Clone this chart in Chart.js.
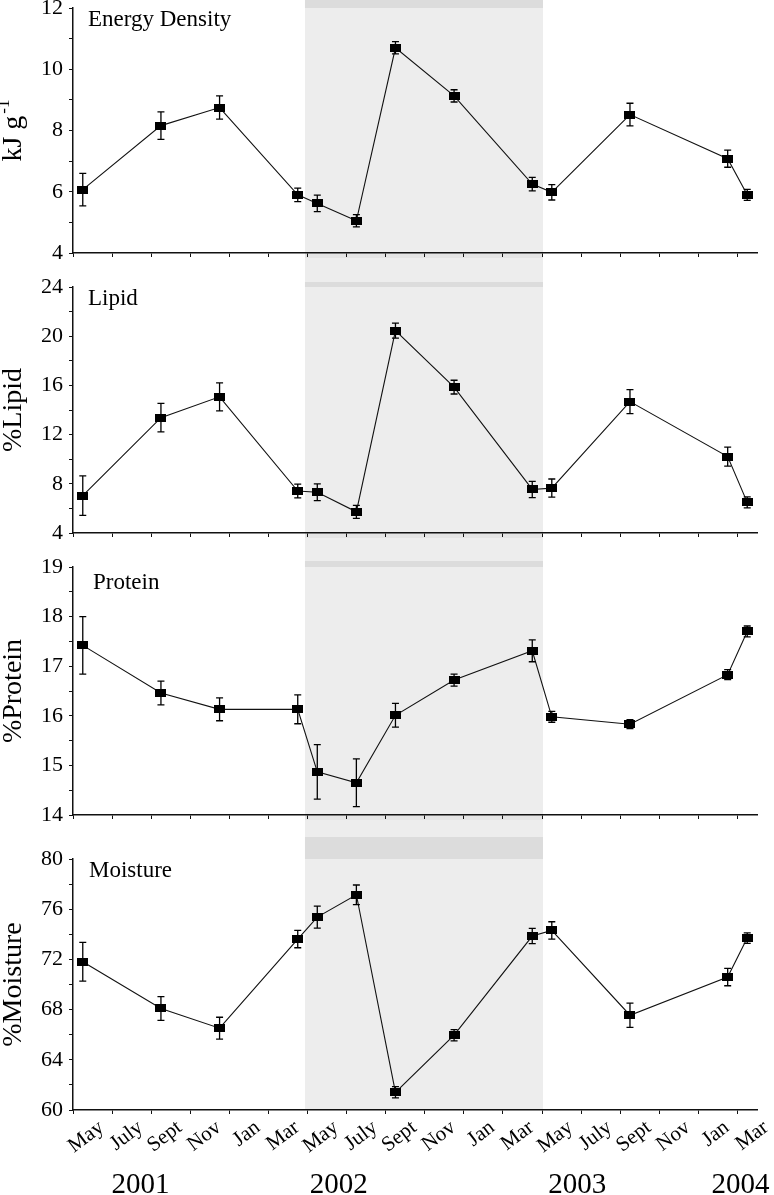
<!DOCTYPE html>
<html>
<head>
<meta charset="utf-8">
<title>Seasonal composition</title>
<script src="https://cdn.jsdelivr.net/npm/chart.js@4/dist/chart.umd.min.js"></script>
<style>
  html, body { margin: 0; padding: 0; background: #fff; width: 774px; height: 1195px; overflow: hidden; position: relative; }
  canvas.panel { position: absolute; left: 0; }
</style>
</head>
<body>
<canvas id="energyChart" class="panel" width="774" height="280" style="top:-10px;width:774px;height:280px"></canvas>
<canvas id="lipidChart" class="panel" width="774" height="280" style="top:270px;width:774px;height:280px"></canvas>
<canvas id="proteinChart" class="panel" width="774" height="285" style="top:550px;width:774px;height:285px"></canvas>
<canvas id="moistureChart" class="panel" width="774" height="360" style="top:835px;width:774px;height:360px"></canvas>

<script>
/* ===== DATA ===== */
// sampling dates in months, counted from Jan 2001 (0 = Jan 2001)
const sampleMonths = [3.5, 7.5, 10.5, 14.5, 15.5, 17.5, 19.5, 22.5, 26.5, 27.5, 31.5, 36.5, 37.5];

const energyValues   = [6.07, 8.16, 8.75, 5.90, 5.62, 5.05, 10.70, 9.13, 6.25, 5.98, 8.52, 7.08, 5.90];
const energyErrors   = [0.53, 0.45, 0.38, 0.22, 0.27, 0.20, 0.20, 0.20, 0.22, 0.25, 0.37, 0.28, 0.18];

const lipidValues    = [7.04, 13.38, 15.07, 7.41, 7.31, 5.72, 20.46, 15.86, 7.54, 7.65, 14.68, 10.21, 6.49];
const lipidErrors    = [1.60, 1.16, 1.14, 0.56, 0.68, 0.53, 0.61, 0.56, 0.66, 0.74, 0.97, 0.77, 0.45];

const proteinValues  = [17.42, 16.46, 16.13, 16.13, 14.87, 14.65, 16.01, 16.72, 17.31, 15.98, 15.83, 16.83, 17.70];
const proteinErrors  = [0.58, 0.24, 0.23, 0.29, 0.55, 0.48, 0.24, 0.12, 0.22, 0.11, 0.09, 0.10, 0.11];

const moistureValues = [71.81, 68.09, 66.52, 73.62, 75.37, 77.15, 61.41, 65.96, 73.86, 74.31, 67.55, 70.59, 73.70];
const moistureErrors = [1.54, 0.95, 0.87, 0.69, 0.88, 0.78, 0.45, 0.45, 0.61, 0.69, 0.96, 0.69, 0.42];

// month tick labels, one every second month from May 2001 (month 4) to Mar 2004 (month 38)
const monthLabels = ["May", "July", "Sept", "Nov", "Jan", "Mar",
                     "May", "July", "Sept", "Nov", "Jan", "Mar",
                     "May", "July", "Sept", "Nov", "Jan", "Mar"];
const yearLabels = ["2001", "2002", "2003", "2004"];
const yearAt     = [6.46, 16.6, 28.8, 37.15];

const panelNames = ["Energy Density", "Lipid", "Protein", "Moisture"];
const axisTitles = ["kJ g", "%Lipid", "%Protein", "%Moisture"];
const axisSupers = ["-1", "", "", ""];

// shaded period (months from Jan 2001)
const shadeStart = 14.87;
const shadeEnd = 27.05;

/* ===== STYLE ===== */
const SERIF = "'Liberation Serif', 'Times New Roman', serif";
const INK = "#111";

// filled rectangular marker
const marker = document.createElement("canvas");
marker.width = 11;
marker.height = 8;
const mctx = marker.getContext("2d");
mctx.fillStyle = "#000";
mctx.fillRect(0, 0, 11, 8);

/* ===== PLUGINS ===== */
const shadePlugin = {
  id: "shade",
  beforeDraw(chart) {
    const { ctx, chartArea, scales: { x } } = chart;
    const cfg = chart.options.panel;
    const x1 = x.getPixelForValue(shadeStart);
    const x2 = x.getPixelForValue(shadeEnd);
    const bottom = cfg.last ? chartArea.bottom : chart.height;
    ctx.save();
    ctx.fillStyle = "#ededed";
    ctx.fillRect(x1, 0, x2 - x1, bottom);
    ctx.fillStyle = "#dcdcdc";
    ctx.fillRect(x1, chartArea.top - cfg.band, x2 - x1, cfg.band);
    if (!cfg.last) {
      ctx.fillStyle = "#e4e4e4";
      ctx.fillRect(x1, chartArea.bottom, x2 - x1, 5);
    }
    ctx.restore();
  }
};

const errorBarPlugin = {
  id: "errorBars",
  afterDatasetsDraw(chart) {
    const { ctx, scales: { x, y } } = chart;
    const ds = chart.data.datasets[0];
    ctx.save();
    ctx.strokeStyle = "#000";
    ctx.lineWidth = 1.3;
    ds.data.forEach((pt, i) => {
      const err = ds.errors[i];
      const px = x.getPixelForValue(pt.x);
      const top = y.getPixelForValue(pt.y + err);
      const bot = y.getPixelForValue(pt.y - err);
      ctx.beginPath();
      ctx.moveTo(px, top);
      ctx.lineTo(px, bot);
      ctx.moveTo(px - 3.5, top);
      ctx.lineTo(px + 3.5, top);
      ctx.moveTo(px - 3.5, bot);
      ctx.lineTo(px + 3.5, bot);
      ctx.stroke();
    });
    ctx.restore();
  }
};

const textPlugin = {
  id: "panelText",
  afterDraw(chart) {
    const { ctx, chartArea, scales: { x } } = chart;
    const cfg = chart.options.panel;
    ctx.save();
    ctx.fillStyle = "#000";

    // panel name
    ctx.font = "23px " + SERIF;
    ctx.textAlign = "left";
    ctx.textBaseline = "alphabetic";
    ctx.fillText(cfg.name, chartArea.left + cfg.nameDx, chartArea.top + cfg.nameDy);

    // y axis title (with optional superscript)
    ctx.save();
    ctx.translate(14, (chartArea.top + chartArea.bottom) / 2);
    ctx.rotate(-Math.PI / 2);
    ctx.textBaseline = "middle";
    ctx.font = "28px " + SERIF;
    const wMain = ctx.measureText(cfg.title).width;
    ctx.font = "17px " + SERIF;
    const wSup = cfg.sup ? ctx.measureText(cfg.sup).width + 2 : 0;
    const start = -(wMain + wSup) / 2;
    ctx.font = "28px " + SERIF;
    ctx.fillText(cfg.title, start, 0);
    if (cfg.sup) {
      ctx.font = "17px " + SERIF;
      ctx.fillText(cfg.sup, start + wMain + 2, -9);
    }
    ctx.restore();

    // year labels under the bottom panel
    if (cfg.last) {
      ctx.font = "29px " + SERIF;
      ctx.textAlign = "center";
      yearLabels.forEach((yr, i) => {
        ctx.fillText(yr, x.getPixelForValue(yearAt[i]), chart.height - 2);
      });
    }
    ctx.restore();
  }
};

/* ===== PANELS ===== */
const panels = [
  { id: "energyChart", values: energyValues, errors: energyErrors, min: 4, max: 12, minor: 1, major: 2,
    padTop: 18, xHeight: 13, band: 8, nameDx: 15, nameDy: 18 },
  { id: "lipidChart", values: lipidValues, errors: lipidErrors, min: 4, max: 24, minor: 2, major: 4,
    padTop: 14, xHeight: 13, band: 5, nameDx: 15, nameDy: 18 },
  { id: "proteinChart", values: proteinValues, errors: proteinErrors, min: 14, max: 19, minor: 0.5, major: 1,
    padTop: 13, xHeight: 20, band: 6, nameDx: 20, nameDy: 22 },
  { id: "moistureChart", values: moistureValues, errors: moistureErrors, min: 60, max: 80, minor: 2, major: 4,
    padTop: 24, xHeight: 85, band: 22, nameDx: 16, nameDy: 18 }
];

function isMultiple(v, step) {
  const r = v / step;
  return Math.abs(r - Math.round(r)) < 1e-6;
}

function buildPanel(p, index) {
  const last = index === panels.length - 1;
  const ctx = document.getElementById(p.id);

  new Chart(ctx, {
    type: "line",
    data: {
      datasets: [{
        data: sampleMonths.map((m, i) => ({ x: m, y: p.values[i] })),
        errors: p.errors,
        borderColor: INK,
        borderWidth: 1.1,
        tension: 0,
        pointStyle: marker,
        pointRadius: 5,
        pointHoverRadius: 5
      }]
    },
    options: {
      responsive: false,
      animation: false,
      events: [],
      panel: {
        last: last,
        band: p.band,
        name: panelNames[index],
        nameDx: p.nameDx,
        nameDy: p.nameDy,
        title: axisTitles[index],
        sup: axisSupers[index]
      },
      layout: { padding: { top: p.padTop, right: 17, left: 0, bottom: 0 } },
      plugins: {
        legend: { display: false },
        tooltip: { enabled: false }
      },
      scales: {
        x: {
          type: "linear",
          min: 3,
          max: 38,
          afterFit: (s) => { s.height = p.xHeight; },
          border: { color: INK, width: 1.5 },
          grid: {
            drawOnChartArea: false,
            tickLength: 4,
            tickColor: (c) => (c.tick && c.tick.value % 2 === 1) ? INK : "rgba(0,0,0,0)"
          },
          ticks: {
            display: last,
            stepSize: 1,
            autoSkip: false,
            minRotation: 37,
            maxRotation: 37,
            padding: 3,
            labelOffset: 9,
            color: "#000",
            font: { family: SERIF, size: 21, lineHeight: 1 },
            callback: (v) => {
              if (v % 2 !== 0 || v < 4) return "";
              return monthLabels[(v - 4) / 2] || "";
            }
          }
        },
        y: {
          min: p.min,
          max: p.max,
          afterFit: (s) => { s.width = 73; },
          border: { color: INK, width: 1.5 },
          grid: { drawOnChartArea: false, tickLength: 4, tickColor: INK },
          ticks: {
            stepSize: p.minor,
            autoSkip: false,
            padding: 6,
            color: "#000",
            font: { family: SERIF, size: 22, lineHeight: 1 },
            callback: (v) => isMultiple(v, p.major) ? String(Math.round(v)) : ""
          }
        }
      }
    },
    plugins: [shadePlugin, errorBarPlugin, textPlugin]
  });
}

panels.forEach(buildPanel);
</script>
</body>
</html>
